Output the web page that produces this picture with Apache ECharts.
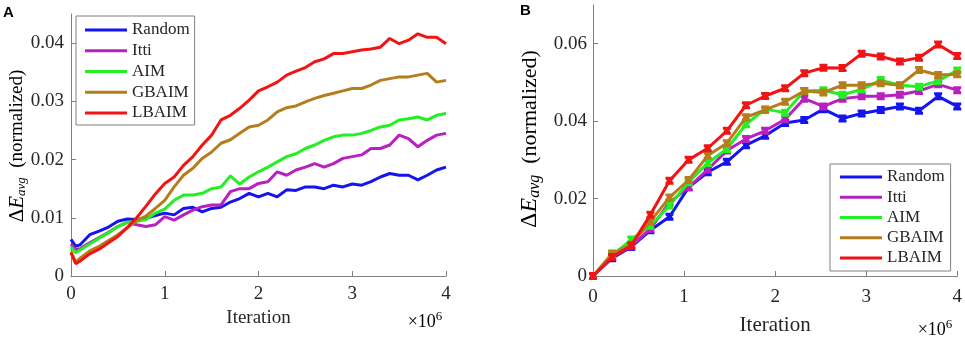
<!DOCTYPE html>
<html><head><meta charset="utf-8">
<script src="https://cdn.jsdelivr.net/npm/echarts@6/dist/echarts.min.js"></script>
<style>html,body{margin:0;padding:0;background:#fff}#c{width:965px;height:341px}</style>
</head><body><div id="c"></div>
<script>
const names = ['Random', 'Itti', 'AIM', 'GBAIM', 'LBAIM'];
const colors = ['#1414f0', '#b820c0', '#22f022', '#b57d1c', '#f21414'];
const xTicks = [0, 1, 2, 3, 4];

// Panel A (iterations in millions)
const xA = [0,0.05,0.1,0.2,0.3,0.4,0.5,0.6,0.7,0.8,0.9,1.0,1.1,1.2,1.3,1.4,1.5,1.6,1.7,1.8,1.9,2.0,2.1,2.2,2.3,2.4,2.5,2.6,2.7,2.8,2.9,3.0,3.1,3.2,3.3,3.4,3.5,3.6,3.7,3.8,3.9,4.0];
const randomA = [0.0063,0.0051,0.0054,0.0071,0.0077,0.0084,0.0094,0.0098,0.0097,0.0099,0.0104,0.0108,0.0105,0.0116,0.0118,0.0110,0.0116,0.0118,0.0127,0.0133,0.0142,0.0136,0.0142,0.0136,0.0148,0.0147,0.0153,0.0153,0.0150,0.0156,0.0153,0.0158,0.0156,0.0162,0.0170,0.0176,0.0173,0.0173,0.0165,0.0173,0.0182,0.0187];
const ittiA = [0.0055,0.0045,0.0047,0.0057,0.0066,0.0075,0.0085,0.0092,0.0088,0.0085,0.0088,0.0102,0.0096,0.0105,0.0113,0.0119,0.0122,0.0122,0.0145,0.0150,0.0150,0.0159,0.0162,0.0179,0.0173,0.0182,0.0187,0.0193,0.0187,0.0193,0.0202,0.0205,0.0208,0.0219,0.0219,0.0225,0.0242,0.0236,0.0222,0.0233,0.0242,0.0245];
const aimA = [0.0050,0.0040,0.0045,0.0055,0.0065,0.0074,0.0085,0.0092,0.0094,0.0097,0.0108,0.0115,0.0130,0.0139,0.0139,0.0142,0.0150,0.0153,0.0172,0.0158,0.0170,0.0179,0.0187,0.0196,0.0205,0.0210,0.0219,0.0225,0.0233,0.0239,0.0242,0.0242,0.0245,0.0250,0.0256,0.0259,0.0268,0.0270,0.0273,0.0268,0.0276,0.0279];
const gbaimA = [0.0042,0.0024,0.0031,0.0043,0.0051,0.0061,0.0071,0.0083,0.0095,0.0103,0.0116,0.0130,0.0153,0.0173,0.0185,0.0202,0.0213,0.0228,0.0234,0.0245,0.0256,0.0259,0.0268,0.0282,0.0289,0.0292,0.0299,0.0305,0.0310,0.0314,0.0318,0.0322,0.0322,0.0328,0.0336,0.0339,0.0342,0.0342,0.0345,0.0348,0.0333,0.0336];
const lbaimA = [0.0040,0.0021,0.0026,0.0038,0.0046,0.0057,0.0068,0.0083,0.0100,0.0120,0.0141,0.0159,0.0170,0.0190,0.0205,0.0225,0.0242,0.0268,0.0276,0.0288,0.0302,0.0318,0.0325,0.0333,0.0345,0.0352,0.0358,0.0368,0.0373,0.0382,0.0382,0.0385,0.0388,0.0390,0.0393,0.0408,0.0399,0.0405,0.0416,0.0410,0.0410,0.0399];

// Panel B
const xB = [0,0.21,0.42,0.63,0.84,1.05,1.26,1.47,1.68,1.89,2.11,2.32,2.53,2.74,2.95,3.16,3.37,3.58,3.79,4.0];
const randomB = [0,0.0046,0.0075,0.0118,0.0153,0.0229,0.0268,0.0295,0.0338,0.0362,0.0395,0.0403,0.0431,0.0407,0.0420,0.0429,0.0438,0.0427,0.0464,0.0438];
const ittiB = [0,0.0049,0.0077,0.0122,0.0190,0.0229,0.0275,0.0324,0.0354,0.0375,0.0405,0.0458,0.0438,0.0458,0.0464,0.0464,0.0468,0.0478,0.0495,0.0480];
const aimB = [0,0.0053,0.0094,0.0130,0.0182,0.0242,0.0292,0.0328,0.0392,0.0431,0.0422,0.0478,0.0480,0.0468,0.0482,0.0506,0.0493,0.0489,0.0504,0.0531];
const gbaimB = [0,0.0058,0.0081,0.0141,0.0203,0.0248,0.0311,0.0343,0.0410,0.0429,0.0450,0.0478,0.0474,0.0493,0.0493,0.0498,0.0493,0.0532,0.0519,0.0521];
const lbaimB = [0,0.0049,0.0079,0.0158,0.0246,0.0300,0.0330,0.0375,0.0441,0.0465,0.0485,0.0524,0.0538,0.0537,0.0574,0.0567,0.0554,0.0564,0.0598,0.0568];

const yTicksA = [0, 0.01, 0.02, 0.03, 0.04];
const yTicksB = [0, 0.02, 0.04, 0.06];

const seriesA = [randomA, ittiA, aimA, gbaimA, lbaimA];
const seriesB = [randomB, ittiB, aimB, gbaimB, lbaimB];

const FONT = '"Liberation Serif", "Times New Roman", serif';
const AX = '#808080';
const TXT = '#262626';
const markPath = 'path://M0,0 L10,0 L10,3 L8,5 L10,7 L10,10 L0,10 L0,7 L2,5 L0,3 Z';

function zip(xs, ys) { return xs.map((x, i) => [x, ys[i]]); }

function xAxisCfg(gi, margin) {
  return {
    gridIndex: gi, type: 'value', min: xTicks[0], max: xTicks[xTicks.length - 1], interval: 1,
    axisLine: { show: true, lineStyle: { color: AX, width: 1 } },
    axisTick: { show: true, inside: true, length: 5, lineStyle: { color: AX } },
    splitLine: { show: false },
    axisLabel: { color: TXT, fontFamily: FONT, fontSize: 19, margin: margin }
  };
}
function yAxisCfg(gi, max, interval, margin) {
  return {
    gridIndex: gi, type: 'value', min: 0, max: max, interval: interval,
    axisLine: { show: true, lineStyle: { color: AX, width: 1 } },
    axisTick: { show: true, inside: true, length: 5, lineStyle: { color: AX } },
    splitLine: { show: false },
    axisLabel: { color: TXT, fontFamily: FONT, fontSize: 19, margin: margin, showMaxLabel: false }
  };
}

const series = [];
names.forEach((n, i) => {
  series.push({
    name: n, type: 'line', xAxisIndex: 0, yAxisIndex: 0, data: zip(xA, seriesA[i]),
    showSymbol: false, symbol: 'none', lineStyle: { color: colors[i], width: 3 }, itemStyle: { color: colors[i] },
    z: 2 + i
  });
});
names.forEach((n, i) => {
  series.push({
    name: n, type: 'line', xAxisIndex: 1, yAxisIndex: 1, data: zip(xB, seriesB[i]),
    symbol: markPath, symbolSize: 8, showSymbol: true,
    lineStyle: { color: colors[i], width: 3 }, itemStyle: { color: colors[i] },
    z: 2 + i
  });
});

const legendBase = {
  orient: 'vertical', icon: 'rect', itemWidth: 42, itemHeight: 3,
  borderColor: '#808080', borderWidth: 1, backgroundColor: '#fff',
  textStyle: { fontFamily: FONT, fontSize: 17, color: TXT, lineHeight: 17 },
  data: names, selectedMode: false
};

const yName = '{d|Δ}{e|E}{s|avg}{n|  (normalized)}';
function richY(sz) {
  return {
    d: { fontFamily: FONT, fontSize: sz + 2, color: TXT },
    e: { fontFamily: FONT, fontSize: sz + 2, fontStyle: 'italic', color: TXT },
    s: { fontFamily: FONT, fontSize: sz - 6, fontStyle: 'italic', color: TXT, padding: [9, 0, 0, 0] },
    n: { fontFamily: FONT, fontSize: sz, color: TXT }
  };
}
const richExp = {
  a: { fontFamily: FONT, fontSize: 18, color: TXT },
  b: { fontFamily: FONT, fontSize: 13, color: TXT, padding: [0, 0, 10, 0] }
};

const option = {
  animation: false,
  backgroundColor: '#fff',
  grid: [
    { left: 71, top: 14, width: 375, height: 262 },
    { left: 593, top: 5, width: 365, height: 272 }
  ],
  xAxis: [
    Object.assign(xAxisCfg(0, 9), { name: 'Iteration', nameLocation: 'middle', nameGap: 32, nameTextStyle: { fontFamily: FONT, fontSize: 19, color: TXT } }),
    Object.assign(xAxisCfg(1, 12), { name: 'Iteration', nameLocation: 'middle', nameGap: 39, nameTextStyle: { fontFamily: FONT, fontSize: 21, color: TXT } })
  ],
  yAxis: [yAxisCfg(0, 0.045, 0.01, 7), yAxisCfg(1, 0.07, 0.02, 6)],
  legend: [
    Object.assign({}, legendBase, { left: 76, top: 16, itemGap: 3.75, padding: [5.5, 5, 3.5, 9] }),
    Object.assign({}, legendBase, { left: 830, top: 164, itemGap: 3.25, padding: [4.5, 6, 4.5, 10] })
  ],
  graphic: [
    { type: 'text', left: 3, top: 5, style: { text: 'A', font: 'bold 15px "Liberation Sans", Arial, sans-serif', fill: '#000' } },
    { type: 'text', left: 520, top: 3, style: { text: 'B', font: 'bold 15px "Liberation Sans", Arial, sans-serif', fill: '#000' } },
    { type: 'text', x: 17, y: 146, rotation: Math.PI / 2, style: { text: yName, rich: richY(19), align: 'center', verticalAlign: 'middle' } },
    { type: 'text', x: 530, y: 139, rotation: Math.PI / 2, style: { text: yName, rich: richY(22), align: 'center', verticalAlign: 'middle' } },
    { type: 'text', x: 425, y: 322, style: { text: '{a|×10}{b|6}', rich: richExp, align: 'center', verticalAlign: 'middle' } },
    { type: 'text', x: 935, y: 330, style: { text: '{a|×10}{b|6}', rich: richExp, align: 'center', verticalAlign: 'middle' } }
  ],
  series: series
};

const chart = echarts.init(document.getElementById('c'), null, { renderer: 'canvas' });
chart.setOption(option);
</script>
</body></html>
